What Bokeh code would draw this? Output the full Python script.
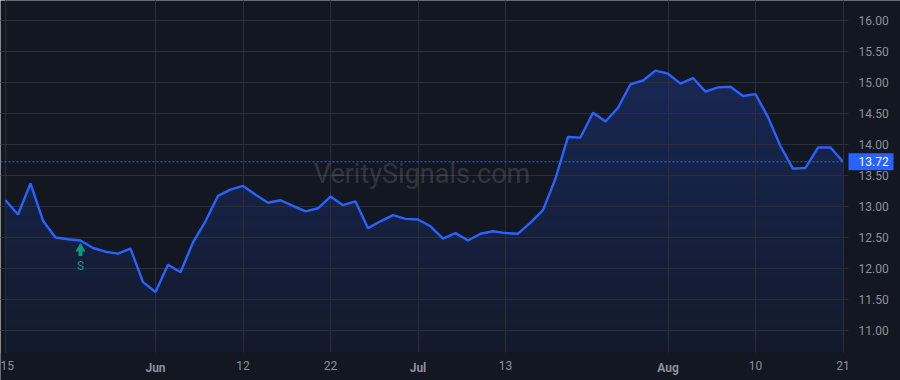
import numpy as np
from bokeh.plotting import figure
from bokeh.models import (Range1d, FixedTicker, Span, Label, NumeralTickFormatter,
                          LinearAxis, BoxAnnotation)
from bokeh.core.properties import value
from bokeh.embed import file_html
from bokeh.resources import INLINE

# ---- data ----
closes = [13.10, 12.87, 13.37, 12.77, 12.50, 12.47, 12.45, 12.33, 12.27, 12.24,
          12.32, 11.78, 11.62, 12.06, 11.94, 12.42, 12.76, 13.17, 13.27, 13.33,
          13.19, 13.06, 13.10, 13.01, 12.92, 12.97, 13.16, 13.02, 13.08, 12.65,
          12.76, 12.86, 12.80, 12.79, 12.68, 12.48, 12.57, 12.45, 12.56, 12.60,
          12.57, 12.56, 12.74, 12.94, 13.45, 14.12, 14.11, 14.51, 14.37, 14.59,
          14.97, 15.03, 15.19, 15.14, 14.98, 15.07, 14.85, 14.92, 14.93, 14.78,
          14.81, 14.44, 13.97, 13.61, 13.62, 13.95, 13.95, 13.72]
x_idx = list(range(len(closes)))
tick_idx = [0, 12, 19, 26, 33, 40, 53, 60, 67]
tick_labels = ["15", "Jun", "12", "22", "Jul", "13", "Aug", "10", "21"]
month_names = {"Jun", "Jul", "Aug"}
price_ticks = [11.0, 11.5, 12.0, 12.5, 13.0, 13.5, 14.0, 14.5, 15.0, 15.5, 16.0]
signal_idx = 6
signal_text = "S"
watermark = "VeritySignals.com"

# ---- style / layout ----
BG = "#131722"
GRID = "#2a2e39"
LINE = "#2962ff"
TEXT = "#8d909a"
TEAL = "#089981"
FONT = "Roboto"
W, H = 900, 380
PLOT_W, PLOT_H = 843, 352          # pane area; price scale right, time scale below
PPX = 12.5                         # pixels per bar
x_start = -0.4
axis_x = x_start + PLOT_W / PPX
x_end = x_start + W / PPX
y_top, y_plot_bottom = 16.32, 10.645
ppu = PLOT_H / (y_top - y_plot_bottom)
y_start = y_plot_bottom - (H - PLOT_H) / ppu

p = figure(width=W, height=H, output_backend="svg", toolbar_location=None,
           x_range=Range1d(x_start, x_end), y_range=Range1d(y_start, y_top),
           y_axis_location="right",
           min_border_left=0, min_border_top=0,
           min_border_right=0, min_border_bottom=0,
           background_fill_color=BG, border_fill_color=BG,
           outline_line_color=None)

# gradient area (image below, masked above the line)
n = 400
ys = y_plot_bottom + (np.arange(n) + 0.5) * (y_top - y_plot_bottom) / n
vmax = max(closes)
t = np.clip((ys - y_plot_bottom) / (vmax - y_plot_bottom), 0, 1)
alpha = 0.05 + (0.23 - 0.05) * t
img = np.zeros((n, 1), dtype=np.uint32)
view = img.view(dtype=np.uint8).reshape((n, 1, 4))
view[:, 0, 0] = 41
view[:, 0, 1] = 98
view[:, 0, 2] = 255
view[:, 0, 3] = (alpha * 255).astype(np.uint8)
p.image_rgba(image=[img], x=x_idx[0], y=y_plot_bottom, dw=x_idx[-1] - x_idx[0],
             dh=y_top - y_plot_bottom)
p.varea(x=x_idx, y1=closes, y2=[y_top] * len(closes), fill_color=BG,
        fill_alpha=1.0)

# grid
p.xgrid.ticker = FixedTicker(ticks=tick_idx)
p.ygrid.ticker = FixedTicker(ticks=price_ticks)
p.grid.grid_line_color = GRID
p.grid.grid_line_width = 1
p.grid.level = "guide"

# watermark
p.add_layout(Label(x=(x_start + axis_x) / 2, y=(y_plot_bottom + y_top) / 2,
                   text=watermark, text_align="center", text_baseline="middle",
                   text_font=FONT, text_font_size="27px", text_color="white",
                   text_alpha=0.15, y_offset=3, level="guide"))

# last price dotted line
p.add_layout(Span(location=closes[-1], dimension="width", line_color=LINE,
                  line_dash="2 2", line_width=1.2, level="guide"))

# scale areas (right price scale, bottom time scale)
p.add_layout(BoxAnnotation(left=axis_x, fill_color=BG, fill_alpha=1.0,
                           line_color=None, level="guide"))
p.add_layout(BoxAnnotation(top=y_plot_bottom, fill_color=BG, fill_alpha=1.0,
                           line_color=None, level="guide"))

# line
p.line(x_idx, closes, line_color=LINE, line_width=2.4, level="annotation")

# signal marker
sv = closes[signal_idx]
p.scatter(x=[signal_idx], y=[sv - 8 / ppu], marker="triangle", size=10,
          fill_color=TEAL, line_color=None, level="annotation")
p.rect(x=[signal_idx], y=[sv - 13 / ppu], width=4, height=5,
       width_units="screen", height_units="screen",
       fill_color=TEAL, line_color=None, level="annotation")
p.text(x=[signal_idx], y=[sv], text=[signal_text], y_offset=25,
       text_align="center", text_baseline="middle", text_color=TEAL,
       text_font=value(FONT), text_font_size="12px", level="annotation")

# time axis: days (normal) and months (bold), both at the pane bottom
day_ticks = [i for i, s in zip(tick_idx, tick_labels) if s not in month_names]
mon_ticks = [i for i, s in zip(tick_idx, tick_labels) if s in month_names]
labels_map = {i: s for i, s in zip(tick_idx, tick_labels)}


def style_time_axis(ax, ticks, bold):
    ax.ticker = FixedTicker(ticks=ticks)
    ax.major_label_overrides = {i: labels_map[i] for i in ticks}
    ax.fixed_location = y_plot_bottom
    ax.axis_line_color = None
    ax.major_tick_line_color = None
    ax.minor_tick_line_color = None
    ax.major_label_standoff = 2
    ax.major_label_text_color = TEXT
    ax.major_label_text_font = FONT
    ax.major_label_text_font_size = "12px"
    ax.major_label_text_font_style = "bold" if bold else "normal"
    ax.level = "overlay"


style_time_axis(p.xaxis[0], day_ticks, False)
mon_axis = LinearAxis()
style_time_axis(mon_axis, mon_ticks, True)
p.add_layout(mon_axis, "below")

# price axis (right)
ya = p.yaxis[0]
ya.ticker = FixedTicker(ticks=price_ticks)
ya.formatter = NumeralTickFormatter(format="0.00")
ya.fixed_location = axis_x
ya.bounds = (y_plot_bottom, y_top)
ya.axis_line_color = GRID
ya.major_tick_line_color = GRID
ya.major_tick_out = 5
ya.major_tick_in = 0
ya.minor_tick_line_color = None
ya.major_label_standoff = 10
ya.major_label_text_color = TEXT
ya.major_label_text_font = FONT
ya.major_label_text_font_size = "12px"
ya.level = "overlay"

# last price label on the price scale
p.rect(x=[axis_x + 27.5 / PPX], y=[closes[-1]], width=45, height=17,
       width_units="screen", height_units="screen",
       fill_color=LINE, line_color=None, level="overlay")
p.text(x=[axis_x], y=[closes[-1]], x_offset=15, text=[f"{closes[-1]:.2f}"],
       text_align="left", text_baseline="middle", text_color="white",
       text_font=value(FONT), text_font_size="12px", level="overlay")

open("out.html", "w").write(file_html(p, INLINE))
